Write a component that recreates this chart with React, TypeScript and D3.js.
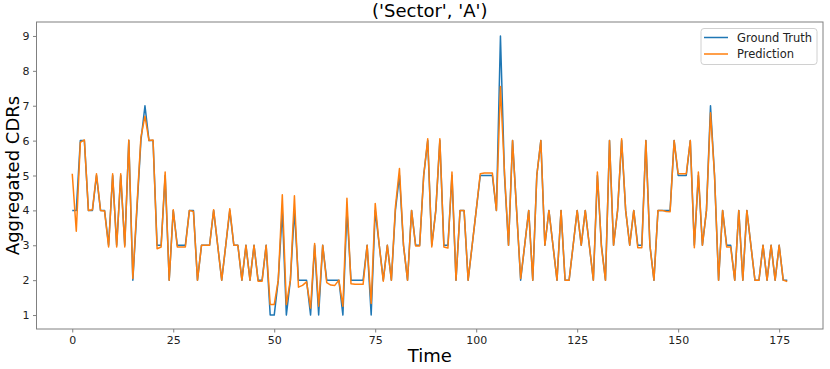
import React, { useEffect, useRef } from "react"
import * as d3 from "d3"

const groundTruth = [
  4, 4, 6, 6, 4, 4, 5, 4, 4, 3, 5, 3, 5, 3, 6, 2, 4, 6, 7, 6,
  6, 3, 3, 5, 2, 4, 3, 3, 3, 4, 4, 2, 3, 3, 3, 4, 3, 2, 3, 4,
  3, 3, 2, 3, 2, 3, 2, 2, 3, 1, 1, 2, 4, 1, 2, 4, 2, 2, 2, 1,
  3, 1, 3, 2, 2, 2, 2, 1, 4, 2, 2, 2, 2, 3, 1, 4, 3, 2, 3, 2,
  4, 5, 3, 2, 4, 3, 3, 5, 6, 3, 4, 6, 3, 3, 5, 2, 4, 4, 2, 3,
  4, 5, 5, 5, 5, 4, 9, 5, 3, 6, 4, 2, 3, 4, 2, 5, 6, 3, 4, 3,
  2, 4, 2, 2, 3, 4, 3, 4, 3, 2, 5, 3, 2, 6, 3, 4, 6, 4, 3, 4,
  3, 3, 6, 3, 2, 4, 4, 4, 4, 6, 5, 5, 5, 6, 3, 5, 3, 4, 7, 5,
  2, 4, 3, 3, 2, 4, 2, 4, 3, 2, 2, 3, 2, 3, 2, 3, 2, 2,
]

const prediction = [
  5.05, 3.4, 5.95, 6.02, 4, 4.02, 5.05, 4, 3.98, 2.95, 5.05, 2.95, 5.05, 2.95, 6.02, 2.05, 4.1, 6.1, 6.7, 6,
  6.02, 2.9, 2.95, 5.1, 2, 4.02, 2.95, 2.95, 2.95, 4, 3.97, 2, 3, 3, 3, 4.02, 3, 2, 3, 4.05,
  3, 3, 2, 3, 2, 3, 1.97, 1.97, 3, 1.3, 1.3, 2, 4.45, 1.3, 2, 4.42, 1.8, 1.85, 1.95, 1.2,
  3.05, 1.25, 3, 1.93, 1.86, 1.85, 2, 1.25, 4.35, 1.9, 1.88, 1.88, 1.88, 3, 1.33, 4.2, 3, 1.97, 3, 2,
  4.1, 5.2, 3, 2, 4, 2.98, 2.98, 5, 6.05, 2.95, 4, 6.05, 2.95, 2.92, 5.1, 2, 4, 4, 2, 3,
  4, 5.05, 5.07, 5.07, 5.07, 4, 7.55, 5.1, 3, 6, 4, 2.05, 3, 4, 2, 5, 6, 3, 4, 3,
  2, 4, 2, 2, 3, 4, 3, 4, 3, 2, 5.1, 2.95, 2, 6, 3, 4, 6.05, 4, 3, 4,
  2.93, 2.93, 6, 3, 2, 4, 4, 3.97, 3.96, 6, 5.05, 5.05, 5.05, 6, 2.93, 5.1, 3, 4, 6.8, 5,
  2, 4, 2.95, 2.95, 2, 4, 2, 4, 3, 2, 2, 3, 2, 3, 2, 3, 2, 1.96,
]

const xTicks = [0, 25, 50, 75, 100, 125, 150, 175]
const yTicks = [1, 2, 3, 4, 5, 6, 7, 8, 9]
const seriesNames = ["Ground Truth", "Prediction"]
const seriesColors = ["#1f77b4", "#ff7f0e"]

const W = 830, H = 369
const FONT = "DejaVu Sans, sans-serif"

export default function App() {
  const ref = useRef<SVGSVGElement | null>(null)

  useEffect(() => {
    const svg = d3.select(ref.current)
    svg.selectAll("*").remove()

    const left = 36.5, right = 823, top = 22, bottom = 329
    const n = groundTruth.length
    const xPad = (n - 1) * 0.05
    const x = d3.scaleLinear().domain([-xPad, n - 1 + xPad]).range([left, right])
    const y = d3.scaleLinear().domain([0.6, 9.4]).range([bottom, top])

    svg.append("rect").attr("width", W).attr("height", H).attr("fill", "#fff")

    const line = d3.line<number>()
      .x((_, i) => x(i))
      .y(d => y(d))

    ;[groundTruth, prediction].forEach((s, k) => {
      svg.append("path")
        .datum(s)
        .attr("d", line)
        .attr("fill", "none")
        .attr("stroke", seriesColors[k])
        .attr("stroke-width", 1.5)
        .attr("stroke-linejoin", "round")
    })

    // frame
    svg.append("rect")
      .attr("x", left).attr("y", top)
      .attr("width", right - left).attr("height", bottom - top)
      .attr("fill", "none").attr("stroke", "#808080").attr("stroke-width", 1)

    const xAxis = svg.append("g")
      .attr("transform", `translate(0,${bottom})`)
      .call(d3.axisBottom(x).tickValues(xTicks).tickSize(3.5).tickPadding(3.5).tickSizeOuter(0))
    const yAxis = svg.append("g")
      .attr("transform", `translate(${left},0)`)
      .call(d3.axisLeft(y).tickValues(yTicks).tickSize(3.5).tickPadding(3.5).tickSizeOuter(0))

    ;[xAxis, yAxis].forEach(g => {
      g.select(".domain").remove()
      g.selectAll("line").attr("stroke", "#808080")
      g.selectAll("text")
        .attr("fill", "#222")
        .style("font-family", FONT)
        .style("font-size", "11px")
    })

    svg.append("text")
      .attr("x", (left + right) / 2).attr("y", 17)
      .attr("text-anchor", "middle")
      .style("font-family", FONT).style("font-size", "18px")
      .text("('Sector', 'A')")

    svg.append("text")
      .attr("x", (left + right) / 2).attr("y", 362)
      .attr("text-anchor", "middle")
      .style("font-family", FONT).style("font-size", "18px")
      .text("Time")

    svg.append("text")
      .attr("transform", `translate(19,${(top + bottom) / 2}) rotate(-90)`)
      .attr("text-anchor", "middle")
      .style("font-family", FONT).style("font-size", "18px")
      .text("Aggregated CDRs")

    // legend
    const lg = svg.append("g")
    lg.append("rect")
      .attr("x", 701).attr("y", 28.5).attr("width", 116).attr("height", 36).attr("rx", 3)
      .attr("fill", "#fff").attr("fill-opacity", 0.8)
      .attr("stroke", "#d0d0d0").attr("stroke-width", 1)
    seriesNames.forEach((name, i) => {
      const yy = 37.5 + i * 16.5
      lg.append("line")
        .attr("x1", 704).attr("x2", 728).attr("y1", yy).attr("y2", yy)
        .attr("stroke", seriesColors[i]).attr("stroke-width", 1.5)
      lg.append("text")
        .attr("x", 737).attr("y", yy + 4)
        .attr("fill", "#222")
        .style("font-family", FONT).style("font-size", "11.5px")
        .text(name)
    })
  }, [])

  return (
    <svg ref={ref} width={W} height={H}
      style={{ position: "absolute", left: 0, top: 0, display: "block" }} />
  )
}
